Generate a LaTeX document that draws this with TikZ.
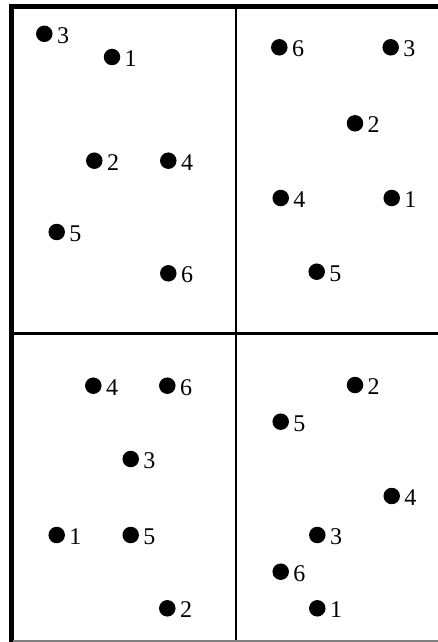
\documentclass[tikz,border=0pt]{standalone}
\usepackage{fontspec}
\setmainfont{Liberation Serif}
\begin{document}
\begin{tikzpicture}[x=1pt,y=-1pt,
  dot/.style={circle,fill=black,inner sep=0pt,minimum size=16.5pt},
  num/.style={anchor=base west,inner sep=0pt,font=\fontsize{24}{24}\selectfont},
  thick border/.style={line width=5pt,black},
  divider/.style={line width=2.5pt,black}]
\useasboundingbox (0,0) rectangle (438,642);
% frame
\draw[thick border] (11,4) -- (11,642);
\draw[thick border] (8.5,7) -- (438,7);
\draw[divider] (235.8,9) -- (235.8,642);
\draw[divider] (13,333.5) -- (438,333.5);
\draw[gray,line width=1.2pt] (13,641) -- (438,641);
% dots
\foreach \n/\x/\y/\t in {
  a3/44.3/33.8/3, a1/112/57/1, a2/94.3/160.7/2, a4/168.3/160.7/4, a5/56.7/232/5, a6/168.3/273.3/6,
  b6/279.3/47.3/6, b3/390.7/47.3/3, b2/355/123.3/2, b4/280.7/198/4, b1/391.7/198/1, b5/316.7/271.7/5,
  c4/93.3/385.7/4, c6/167.3/385.7/6, c3/130.7/459/3, c1/56.7/535/1, c5/130.7/535/5, c2/167.3/608.3/2,
  d2/355/385/2, d5/280.7/421.7/5, d4/391.7/496/4, d3/317.3/535/3, d6/280.7/571.7/6, d1/317.3/608.3/1}
{
  \node[dot] (\n) at (\x,\y) {};
  \node[num] (\n-l) at ([shift={(12.5,9.5)}]\n.center) {\t};
}
\end{tikzpicture}
\end{document}
